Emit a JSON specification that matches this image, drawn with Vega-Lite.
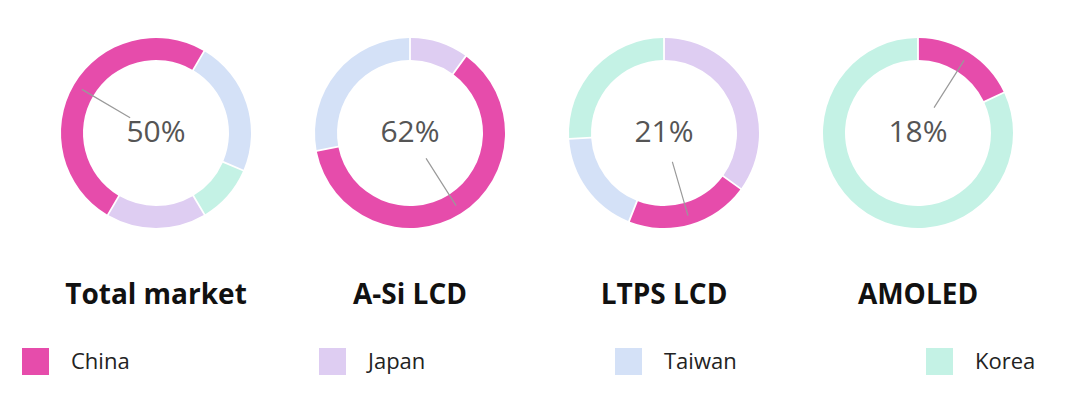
{
  "$schema": "https://vega.github.io/schema/vega-lite/v6.json",
  "padding": {"left": 22, "top": 38, "right": 10, "bottom": 10},
  "background": "white",
  "datasets": {
    "shares": [
      {"chart": "Total market", "region": "China", "share": 0.50},
      {"chart": "Total market", "region": "Japan", "share": 0.17},
      {"chart": "Total market", "region": "Taiwan", "share": 0.23},
      {"chart": "Total market", "region": "Korea", "share": 0.10},
      {"chart": "A-Si LCD", "region": "China", "share": 0.62},
      {"chart": "A-Si LCD", "region": "Japan", "share": 0.10},
      {"chart": "A-Si LCD", "region": "Taiwan", "share": 0.28},
      {"chart": "LTPS LCD", "region": "China", "share": 0.21},
      {"chart": "LTPS LCD", "region": "Japan", "share": 0.35},
      {"chart": "LTPS LCD", "region": "Taiwan", "share": 0.18},
      {"chart": "LTPS LCD", "region": "Korea", "share": 0.26},
      {"chart": "AMOLED", "region": "China", "share": 0.18},
      {"chart": "AMOLED", "region": "Korea", "share": 0.82}
    ]
  },
  "data": {"name": "shares"},
  "spacing": 34,
  "resolve": {"scale": {"color": "shared", "theta": "independent"}, "legend": {"color": "shared"}},
  "hconcat": [
    {
      "width": 220, "height": 190,
      "title": {"text": "Total market"},
      "transform": [{"filter": "datum.chart === 'Total market'"}],
      "resolve": {"scale": {"theta": "independent"}},
      "layer": [
        {
          "mark": {"type": "arc", "innerRadius": 73, "outerRadius": 95, "padAngle": 0.015},
          "encoding": {
            "theta": {"field": "share", "type": "quantitative", "stack": true, "scale": {"range": [0.532, 6.815]}},
            "color": {"field": "region", "type": "nominal",
              "scale": {"domain": ["China", "Japan", "Taiwan", "Korea"], "range": ["#E64CAB", "#DECDF2", "#D4E1F7", "#C4F2E5"]},
              "legend": {"orient": "none", "legendX": -24, "legendY": 310, "direction": "horizontal", "columns": 4, "title": null, "symbolType": "square", "symbolSize": 729, "symbolStrokeWidth": 0, "labelFontSize": 22, "labelFont": "Open Sans", "labelColor": "#222222", "labelOffset": 22, "columnPadding": 189, "labelLimit": 300}},
            "order": {"field": "region", "type": "nominal", "sort": "descending"}
          }
        },
        {
          "transform": [
            {"fold": ["share", "share", "share"], "as": ["k", "v"]},
            {"window": [{"op": "row_number", "as": "copy"}], "groupby": ["region"]}
          ],
          "mark": {"type": "arc", "filled": false, "stroke": "#9a9a9a", "strokeWidth": 1.2, "padAngle": 3.1416, "innerRadius": 30, "outerRadius": 86},
          "encoding": {
            "theta": {"field": "v", "type": "quantitative", "stack": true, "scale": {"range": [0.532, 6.815]}},
            "order": {"field": "region", "type": "nominal", "sort": "descending"},
            "strokeOpacity": {"condition": {"test": "datum.region === 'China' && datum.copy === 2", "value": 1}, "value": 0}
          }
        },
        {
          "transform": [{"filter": "datum.region === 'China'"}],
          "mark": {"type": "text", "fontSize": 30, "font": "Open Sans", "color": "#555555", "baseline": "middle", "align": "center"},
          "encoding": {"text": {"field": "share", "type": "quantitative", "format": ".0%"}}
        }
      ]
    },
    {
      "width": 220, "height": 190,
      "title": {"text": "A-Si LCD"},
      "transform": [{"filter": "datum.chart === 'A-Si LCD'"}],
      "resolve": {"scale": {"theta": "independent"}},
      "layer": [
        {
          "mark": {"type": "arc", "innerRadius": 73, "outerRadius": 95, "padAngle": 0.015},
          "encoding": {
            "theta": {"field": "share", "type": "quantitative", "stack": true, "scale": {"range": [4.524, 10.807]}},
            "color": {"field": "region", "type": "nominal",
              "scale": {"domain": ["China", "Japan", "Taiwan", "Korea"], "range": ["#E64CAB", "#DECDF2", "#D4E1F7", "#C4F2E5"]},
              "legend": {"orient": "none", "legendX": -24, "legendY": 310, "direction": "horizontal", "columns": 4, "title": null, "symbolType": "square", "symbolSize": 729, "symbolStrokeWidth": 0, "labelFontSize": 22, "labelFont": "Open Sans", "labelColor": "#222222", "labelOffset": 22, "columnPadding": 189, "labelLimit": 300}},
            "order": {"field": "region", "type": "nominal", "sort": "descending"}
          }
        },
        {
          "transform": [
            {"fold": ["share", "share", "share"], "as": ["k", "v"]},
            {"window": [{"op": "row_number", "as": "copy"}], "groupby": ["region"]}
          ],
          "mark": {"type": "arc", "filled": false, "stroke": "#9a9a9a", "strokeWidth": 1.2, "padAngle": 3.1416, "innerRadius": 30, "outerRadius": 86},
          "encoding": {
            "theta": {"field": "v", "type": "quantitative", "stack": true, "scale": {"range": [4.524, 10.807]}},
            "order": {"field": "region", "type": "nominal", "sort": "descending"},
            "strokeOpacity": {"condition": {"test": "datum.region === 'China' && datum.copy === 2", "value": 1}, "value": 0}
          }
        },
        {
          "transform": [{"filter": "datum.region === 'China'"}],
          "mark": {"type": "text", "fontSize": 30, "font": "Open Sans", "color": "#555555", "baseline": "middle", "align": "center"},
          "encoding": {"text": {"field": "share", "type": "quantitative", "format": ".0%"}}
        }
      ]
    },
    {
      "width": 220, "height": 190,
      "title": {"text": "LTPS LCD"},
      "transform": [{"filter": "datum.chart === 'LTPS LCD'"}],
      "resolve": {"scale": {"theta": "independent"}},
      "layer": [
        {
          "mark": {"type": "arc", "innerRadius": 73, "outerRadius": 95, "padAngle": 0.015},
          "encoding": {
            "theta": {"field": "share", "type": "quantitative", "stack": true, "scale": {"range": [3.519, 9.802]}},
            "color": {"field": "region", "type": "nominal",
              "scale": {"domain": ["China", "Japan", "Taiwan", "Korea"], "range": ["#E64CAB", "#DECDF2", "#D4E1F7", "#C4F2E5"]},
              "legend": {"orient": "none", "legendX": -24, "legendY": 310, "direction": "horizontal", "columns": 4, "title": null, "symbolType": "square", "symbolSize": 729, "symbolStrokeWidth": 0, "labelFontSize": 22, "labelFont": "Open Sans", "labelColor": "#222222", "labelOffset": 22, "columnPadding": 189, "labelLimit": 300}},
            "order": {"field": "region", "type": "nominal", "sort": "descending"}
          }
        },
        {
          "transform": [
            {"fold": ["share", "share", "share"], "as": ["k", "v"]},
            {"window": [{"op": "row_number", "as": "copy"}], "groupby": ["region"]}
          ],
          "mark": {"type": "arc", "filled": false, "stroke": "#9a9a9a", "strokeWidth": 1.2, "padAngle": 3.1416, "innerRadius": 30, "outerRadius": 86},
          "encoding": {
            "theta": {"field": "v", "type": "quantitative", "stack": true, "scale": {"range": [3.519, 9.802]}},
            "order": {"field": "region", "type": "nominal", "sort": "descending"},
            "strokeOpacity": {"condition": {"test": "datum.region === 'China' && datum.copy === 2", "value": 1}, "value": 0}
          }
        },
        {
          "transform": [{"filter": "datum.region === 'China'"}],
          "mark": {"type": "text", "fontSize": 30, "font": "Open Sans", "color": "#555555", "baseline": "middle", "align": "center"},
          "encoding": {"text": {"field": "share", "type": "quantitative", "format": ".0%"}}
        }
      ]
    },
    {
      "width": 220, "height": 190,
      "title": {"text": "AMOLED"},
      "transform": [{"filter": "datum.chart === 'AMOLED'"}],
      "resolve": {"scale": {"theta": "independent"}},
      "layer": [
        {
          "mark": {"type": "arc", "innerRadius": 73, "outerRadius": 95, "padAngle": 0.015},
          "encoding": {
            "theta": {"field": "share", "type": "quantitative", "stack": true, "scale": {"range": [1.131, 7.414]}},
            "color": {"field": "region", "type": "nominal",
              "scale": {"domain": ["China", "Japan", "Taiwan", "Korea"], "range": ["#E64CAB", "#DECDF2", "#D4E1F7", "#C4F2E5"]},
              "legend": {"orient": "none", "legendX": -24, "legendY": 310, "direction": "horizontal", "columns": 4, "title": null, "symbolType": "square", "symbolSize": 729, "symbolStrokeWidth": 0, "labelFontSize": 22, "labelFont": "Open Sans", "labelColor": "#222222", "labelOffset": 22, "columnPadding": 189, "labelLimit": 300}},
            "order": {"field": "region", "type": "nominal", "sort": "descending"}
          }
        },
        {
          "transform": [
            {"fold": ["share", "share", "share"], "as": ["k", "v"]},
            {"window": [{"op": "row_number", "as": "copy"}], "groupby": ["region"]}
          ],
          "mark": {"type": "arc", "filled": false, "stroke": "#9a9a9a", "strokeWidth": 1.2, "padAngle": 3.1416, "innerRadius": 30, "outerRadius": 86},
          "encoding": {
            "theta": {"field": "v", "type": "quantitative", "stack": true, "scale": {"range": [1.131, 7.414]}},
            "order": {"field": "region", "type": "nominal", "sort": "descending"},
            "strokeOpacity": {"condition": {"test": "datum.region === 'China' && datum.copy === 2", "value": 1}, "value": 0}
          }
        },
        {
          "transform": [{"filter": "datum.region === 'China'"}],
          "mark": {"type": "text", "fontSize": 30, "font": "Open Sans", "color": "#555555", "baseline": "middle", "align": "center"},
          "encoding": {"text": {"field": "share", "type": "quantitative", "format": ".0%"}}
        }
      ]
    }
  ],
  "config": {
    "font": "Open Sans",
    "view": {"stroke": null},
    "title": {"orient": "bottom", "anchor": "middle", "frame": "group", "offset": 54, "fontSize": 28, "fontWeight": "bold", "font": "Open Sans", "color": "#111111"}
  }
}
